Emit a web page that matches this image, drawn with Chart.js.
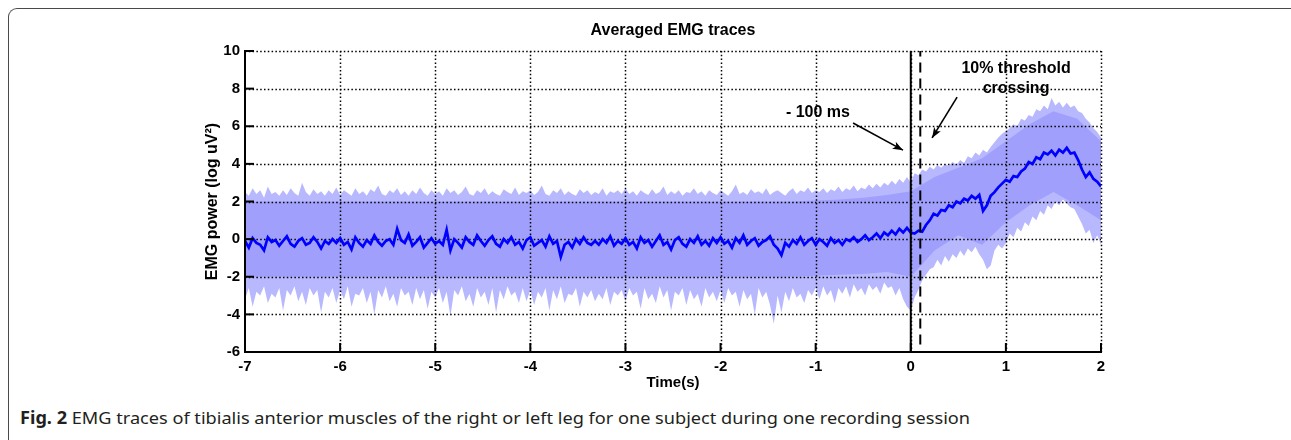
<!DOCTYPE html>
<html><head><meta charset="utf-8">
<script src="https://cdn.jsdelivr.net/npm/chart.js@4.4.1/dist/chart.umd.min.js"></script>
<style>
html,body{margin:0;padding:0;background:#fff;}
#wrap{position:relative;width:1291px;height:440px;overflow:hidden;background:#fff;}
#frame{position:absolute;left:8px;top:8px;width:1283px;height:500px;border-top:1.5px solid #4a4a4a;border-left:1.5px solid #4a4a4a;border-top-left-radius:9px;box-sizing:border-box;}
#c{position:absolute;left:0;top:0;}
#cap{position:absolute;left:20px;top:406px;font-family:'Noto Sans',sans-serif;font-size:17px;line-height:24px;white-space:nowrap;color:#231f20;transform-origin:0 0;}
</style></head><body>
<div id="wrap"><div id="frame"></div><canvas id="c" width="1291" height="400"></canvas><div id="cap"><b>Fig. 2</b> EMG traces of tibialis anterior muscles of the right or left leg for one subject during one recording session</div></div>
<script>
// ---- data ----
const T_START = -7, T_STEP = 0.04;          // sampling of the traces (s)
const CORE_START = -7, CORE_STEP = 0.25;    // sampling of the band core (s)

const meanTrace = [
 -0.1,-0.45,0.05,-0.2,-0.3, -0.6,0.1,-0.15,-0.05,-0.35, -0.1,0.15,-0.25,-0.4,-0.1, 0.05,-0.3,-0.2,0.1,-0.15, -0.5,-0.1,-0.25,0.0,-0.2,
 0.05,-0.3,-0.15,-0.55,0.1, -0.2,-0.4,-0.05,-0.25,0.2, -0.15,-0.35,-0.1,0.0,-0.3, 0.55,-0.05,-0.2,0.25,-0.35, -0.15,0.1,-0.45,-0.2,0.05,
 -0.25,-0.1,-0.3,0.5,-0.6, 0.0,-0.2,-0.45,0.1,-0.15, -0.3,0.2,-0.1,-0.35,-0.05, 0.15,-0.25,-0.4,0.0,-0.2, 0.1,-0.3,-0.15,-0.5,-0.05,
 0.1,-0.35,-0.2,-0.05,-0.4, 0.15,-0.25,-0.1,-0.95,-0.3, -0.15,-0.45,0.0,-0.25,0.1, -0.2,-0.3,-0.1,-0.3,0.0, -0.2,0.15,-0.35,-0.1,-0.25,
 0.05,-0.3,-0.15,-0.5,0.1, -0.2,-0.05,-0.4,-0.1,0.2, -0.3,-0.15,-0.55,-0.05,0.1, -0.25,-0.4,0.0,-0.2,0.15, -0.3,-0.1,-0.35,0.05,-0.2,
 0.1,-0.25,-0.1,-0.45,0.05, -0.2,0.2,-0.3,-0.1,0.05, -0.35,-0.15,-0.05,0.15,-0.3, -0.5,-0.85,-0.2,-0.4,-0.05, -0.25,0.1,-0.3,-0.1,0.05,
 -0.3,0.0,-0.15,-0.35,0.05, -0.2,-0.05,-0.3,0.0,-0.1, 0.1,-0.15,0.0,0.2,-0.05, 0.1,0.3,0.05,0.35,0.2, 0.45,0.25,0.55,0.35,0.6,
 0.35,0.3,0.45,0.4,0.75, 1.0,1.35,1.25,1.55,1.5, 1.8,1.7,2.0,1.9,2.15, 2.05,2.3,2.15,2.35,1.5, 1.8,2.3,2.5,2.75,2.95,
 3.15,3.05,3.35,3.3,3.6, 3.75,4.1,4.0,4.35,4.25, 4.6,4.5,4.7,4.45,4.75, 4.6,4.85,4.55,4.6,4.2, 3.7,3.3,3.55,3.2,3.05, 2.8
];
const upperPeak = [
 2.5,2.3,2.7,2.4,2.6, 2.2,2.8,2.4,2.5,2.3, 2.6,2.35,2.7,2.45,2.3, 3.0,2.5,2.3,2.65,2.4, 2.55,2.3,2.6,2.4,2.75,
 2.35,2.6,2.45,2.3,2.7, 2.4,2.55,2.3,2.65,2.5, 2.85,2.4,2.3,2.6,2.45, 2.7,2.35,2.55,2.3,2.6, 2.4,2.75,2.45,2.3,2.6,
 2.4,2.55,2.3,2.7,2.45, 2.6,2.35,2.5,2.8,2.4, 2.3,2.6,2.45,2.7,2.35, 2.55,2.4,2.3,2.65,2.5, 2.4,2.75,2.35,2.55,2.45,
 2.6,2.35,2.5,2.85,2.4, 2.3,2.6,2.45,2.7,2.35, 2.55,2.4,2.3,2.65,2.45, 2.6,2.35,2.5,2.4,2.7, 2.3,2.55,2.45,2.6,2.4,
 2.7,2.4,2.55,2.3,2.6, 2.45,2.35,2.65,2.4,2.5, 2.8,2.35,2.55,2.4,2.6, 2.3,2.5,2.45,2.7,2.4, 2.55,2.3,2.6,2.45,2.35,
 2.6,2.45,2.3,2.55,2.9, 2.4,2.5,2.35,2.65,2.45, 2.55,2.4,2.7,2.35,2.5, 2.6,2.45,2.3,2.55,2.7, 2.4,2.6,2.5,2.75,2.45,
 2.6,2.5,2.7,2.45,2.65, 2.55,2.8,2.5,2.7,2.6, 2.85,2.55,2.75,2.65,2.9, 2.7,2.95,2.75,3.0,2.85, 3.1,2.9,3.2,3.0,3.3,
 3.0,3.5,3.4,3.7,3.6, 3.85,3.7,3.95,3.8,4.0, 3.9,4.1,3.95,4.2,4.05, 4.4,4.3,4.6,4.45,4.75, 4.6,4.9,5.15,5.4,5.6,
 5.75,5.9,6.1,6.0,6.4, 6.3,6.6,6.5,6.9,6.8, 7.1,6.9,7.5,7.1,7.3, 7.0,7.25,7.0,7.1,6.8, 6.7,6.4,6.2,5.9,5.7, 5.4
];
const lowerPeak = [
 -3.2,-2.6,-3.6,-2.8,-3.0, -2.5,-3.4,-2.9,-3.1,-2.6, -3.8,-2.7,-3.0,-2.5,-3.3, -2.8,-3.5,-2.6,-3.0,-2.7, -3.9,-2.8,-3.1,-2.6,-3.4,
 -2.7,-3.2,-2.5,-3.6,-2.9, -3.0,-2.6,-3.4,-2.8,-4.0, -2.7,-3.1,-2.5,-3.3,-2.9, -3.6,-2.6,-3.0,-2.8,-3.5, -2.6,-3.2,-2.7,-3.7,-2.8,
 -3.1,-2.6,-3.4,-2.8,-4.1, -2.7,-3.0,-2.5,-3.3,-2.9, -3.6,-2.6,-3.1,-2.8,-3.5, -2.6,-3.9,-2.7,-3.2,-2.5, -3.0,-2.8,-3.4,-2.6,-3.3,
 -2.7,-3.5,-2.8,-3.1,-2.6, -3.8,-2.7,-3.2,-2.5,-3.4, -2.9,-3.0,-2.6,-3.6,-2.8, -3.1,-2.7,-3.3,-2.9,-3.2, -2.6,-3.5,-2.8,-3.0,-2.7,
 -3.3,-2.6,-3.0,-2.8,-3.7, -2.6,-3.2,-2.9,-3.4,-2.5, -3.1,-2.7,-3.8,-2.8,-3.0, -2.6,-3.5,-2.7,-3.2,-2.9, -3.6,-2.6,-3.1,-2.8,-3.3,
 -2.7,-3.4,-2.6,-3.0,-2.8, -3.6,-2.7,-3.2,-2.9,-4.0, -2.6,-3.1,-2.8,-3.5,-4.5, -3.0,-3.9,-2.8,-3.3,-2.6, -3.1,-2.9,-3.4,-2.7,-3.0,
 -2.6,-3.2,-2.5,-3.0,-2.7, -3.4,-2.6,-2.9,-2.5,-3.1, -2.4,-2.8,-2.6,-3.0,-2.4, -2.7,-2.5,-2.9,-2.3,-2.6, -2.5,-3.0,-2.6,-3.2,-3.6,
 -3.8,-3.1,-2.7,-2.2,-1.9, -1.6,-1.5,-1.1,-1.4,-0.9, -1.2,-0.8,-1.0,-0.6,-0.9, -0.5,-0.7,-0.4,-0.8,-1.1, -1.6,-1.4,-0.6,-0.3,-0.5,
 -0.2,0.3,0.1,0.6,0.4, 0.9,0.7,1.2,1.0,1.5, 1.3,1.8,1.6,2.0,1.8, 2.1,1.9,1.7,1.6,1.2, 0.8,0.3,0.5,-0.2,0.2, -0.3
];
const upperCore = [
 2.0,2.0,2.0,2.0,2.0,2.0,2.0,2.0,2.0,2.0,2.0,2.0,2.0,2.0,2.0,2.0,2.0,2.0,2.0,2.0,2.0,2.0,2.0,2.0,
 2.05,2.1,2.2,2.35,2.55,3.3,3.8,4.3,5.2,6.1,6.8,6.4,5.2
];
const lowerCore = [
 -2.0,-2.0,-2.0,-2.0,-2.0,-2.0,-2.0,-2.0,-2.0,-2.0,-2.0,-2.0,-2.0,-2.0,-2.0,-2.0,-2.0,-2.0,-2.0,-2.0,-2.0,-2.0,-2.0,-2.0,
 -1.95,-1.9,-1.85,-1.75,-2.0,-0.6,0.2,-0.3,0.9,1.8,2.5,1.8,1.0
];
const xTicks = [-7,-6,-5,-4,-3,-2,-1,0,1,2];
const yTicks = [-6,-4,-2,0,2,4,6,8,10];
const eventTimes = [0, 0.1];   // solid: -100 ms marker, dashed: 10% threshold crossing
const titleText = 'Averaged EMG traces';
const xLabel = 'Time(s)';
const yLabel = 'EMG power (log uV\u00B2)';
const noteTexts = ['- 100 ms', '10% threshold', 'crossing'];
const notePos = [[-0.976, 6.7], [1.107, 9.04], [1.107, 7.98]];
const arrowFrom = [[-0.607, 6.17], [0.487, 7.55]];
const arrowTo   = [[-0.082, 4.73], [0.224, 5.38]];

// ---- build ----
const times = meanTrace.map((_, i) => +(T_START + i * T_STEP).toFixed(3));
const coreTimes = upperCore.map((_, i) => +(CORE_START + i * CORE_STEP).toFixed(3));
const pts = (ts, vs) => vs.map((v, i) => ({x: ts[i], y: v}));
const FF = "'Liberation Sans', Arial, Helvetica, sans-serif";
const NONE = 'rgba(0,0,0,0)';

const decor = {
  id: 'decor',
  afterDatasetDraw(chart, args) {
    if (args.index !== 3) return;
    const {ctx, chartArea: a, scales: {x, y}} = chart;
    ctx.save();
    ctx.strokeStyle = '#000'; ctx.lineWidth = 1.5; ctx.setLineDash([1.5, 2.3]);
    xTicks.slice(1).forEach(v => {
      const px = Math.round(x.getPixelForValue(v)) + 0.5;
      ctx.beginPath(); ctx.moveTo(px, a.top); ctx.lineTo(px, a.bottom); ctx.stroke();
    });
    yTicks.slice(1).forEach(v => {
      const py = Math.round(y.getPixelForValue(v)) + 0.5;
      ctx.beginPath(); ctx.moveTo(a.left, py); ctx.lineTo(a.right, py); ctx.stroke();
    });
    ctx.restore();
  },
  afterDraw(chart) {
    const {ctx, chartArea: a, scales: {x, y}} = chart;
    ctx.save();
    ctx.strokeStyle = '#000'; ctx.lineWidth = 2; ctx.setLineDash([]);
    ctx.beginPath(); ctx.moveTo(a.left, a.top); ctx.lineTo(a.left, a.bottom); ctx.lineTo(a.right + 1, a.bottom); ctx.stroke();
    xTicks.forEach(v => {
      const px = x.getPixelForValue(v);
      ctx.beginPath(); ctx.moveTo(px, a.bottom); ctx.lineTo(px, a.bottom - 9); ctx.stroke();
    });
    yTicks.forEach(v => {
      const py = y.getPixelForValue(v);
      ctx.beginPath(); ctx.moveTo(a.left, py); ctx.lineTo(a.left + 9, py); ctx.stroke();
    });
    // annotations
    ctx.fillStyle = '#000';
    ctx.font = "bold 16px " + FF;
    ctx.textAlign = 'center'; ctx.textBaseline = 'middle';
    noteTexts.forEach((t, i) => ctx.fillText(t, x.getPixelForValue(notePos[i][0]), y.getPixelForValue(notePos[i][1])));
    ctx.lineWidth = 1.6;
    arrowFrom.forEach((f, i) => {
      const x1 = x.getPixelForValue(f[0]), y1 = y.getPixelForValue(f[1]);
      const x2 = x.getPixelForValue(arrowTo[i][0]), y2 = y.getPixelForValue(arrowTo[i][1]);
      ctx.beginPath(); ctx.moveTo(x1, y1); ctx.lineTo(x2, y2); ctx.stroke();
      const ang = Math.atan2(y2 - y1, x2 - x1), L = 11, w = 0.36;
      ctx.beginPath();
      ctx.moveTo(x2, y2);
      ctx.lineTo(x2 - L * Math.cos(ang - w), y2 - L * Math.sin(ang - w));
      ctx.lineTo(x2 - L * 0.7 * Math.cos(ang), y2 - L * 0.7 * Math.sin(ang));
      ctx.lineTo(x2 - L * Math.cos(ang + w), y2 - L * Math.sin(ang + w));
      ctx.closePath(); ctx.fill();
    });
    ctx.restore();
  }
};

const tickFont = {family: FF, size: 15, weight: 'bold'};
new Chart(document.getElementById('c'), {
  type: 'line',
  data: {
    datasets: [
      {label: 'upper spikes', data: pts(times, upperPeak), borderColor: NONE, borderWidth: 0, pointRadius: 0, fill: '+1', backgroundColor: 'rgb(184,184,255)', order: 6},
      {label: 'lower spikes', data: pts(times, lowerPeak), borderColor: NONE, borderWidth: 0, pointRadius: 0, fill: false, order: 5},
      {label: 'upper band', data: pts(coreTimes, upperCore), borderColor: NONE, borderWidth: 0, pointRadius: 0, fill: '+1', backgroundColor: 'rgb(160,160,252)', order: 4},
      {label: 'lower band', data: pts(coreTimes, lowerCore), borderColor: NONE, borderWidth: 0, pointRadius: 0, fill: false, order: 3},
      {label: 'mean', data: pts(times, meanTrace), borderColor: '#0000ff', borderWidth: 2.7, pointRadius: 0, fill: false, order: 2, borderJoinStyle: 'miter'},
      {label: '-100 ms', data: [{x: eventTimes[0], y: -6}, {x: eventTimes[0], y: 10}], borderColor: '#000', borderWidth: 2, pointRadius: 0, fill: false, order: 1},
      {label: 'threshold', data: [{x: eventTimes[1], y: -5.6}, {x: eventTimes[1], y: 10}], borderColor: '#000', borderWidth: 2, borderDash: [10, 6], pointRadius: 0, fill: false, order: 0}
    ]
  },
  options: {
    responsive: false, animation: false, devicePixelRatio: 1,
    layout: {padding: {left: 0, right: 190, top: 0, bottom: 0}},
    plugins: {
      legend: {display: false}, tooltip: {enabled: false},
      title: {display: true, text: titleText, fullSize: false, color: '#000', font: {family: FF, size: 16, weight: 'bold', lineHeight: 1.2}, padding: {top: 21.4, bottom: 10.4}}
    },
    scales: {
      x: {
        type: 'linear', min: -7, max: 2,
        afterBuildTicks: s => { s.ticks = xTicks.map(v => ({value: v})); },
        afterFit: s => { s.height = 48; },
        grid: {display: false, drawTicks: false},
        border: {display: true, color: '#000', width: 2},
        ticks: {color: '#000', font: tickFont, padding: 6, maxRotation: 0, autoSkip: false},
        title: {display: true, text: xLabel, color: '#000', font: {family: FF, size: 15, weight: 'bold', lineHeight: 1.2}, padding: {top: 0, bottom: 8}}
      },
      y: {
        type: 'linear', min: -6, max: 10,
        afterBuildTicks: s => { s.ticks = yTicks.map(v => ({value: v})); },
        afterFit: s => { s.width = 245; },
        grid: {display: false, drawTicks: false},
        border: {display: true, color: '#000', width: 2},
        ticks: {color: '#000', font: tickFont, padding: 5, autoSkip: false},
        title: {display: true, text: yLabel, color: '#000', font: {family: FF, size: 16, weight: 'bold', lineHeight: 1.2}, padding: {top: 203.4, bottom: 0}}
      }
    }
  },
  plugins: [decor]
});

const cap = document.getElementById('cap');
const w = cap.getBoundingClientRect().width;
cap.style.transform = 'scaleX(' + (950 / w) + ')';
</script>
</body></html>
